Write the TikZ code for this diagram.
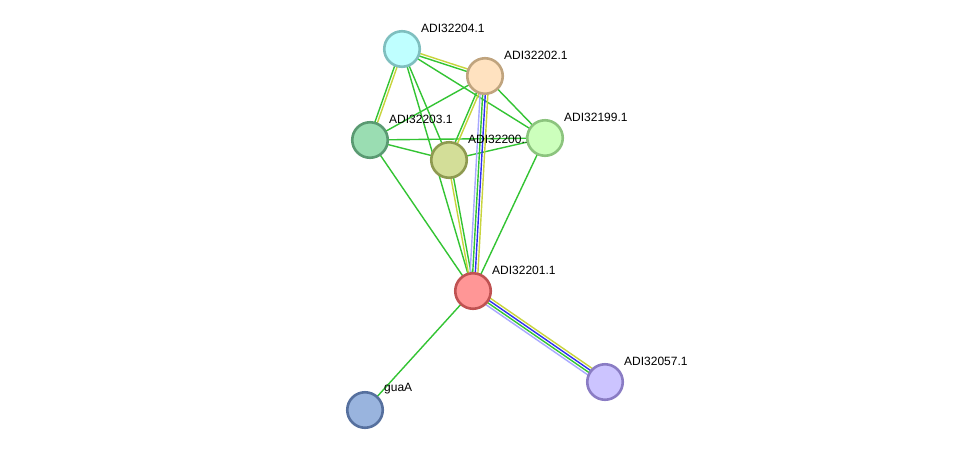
\documentclass[tikz,border=0pt]{standalone}
\usepackage{fontspec}
\setmainfont{Liberation Sans}
\usetikzlibrary{calc,backgrounds}
\definecolor{egreen}{HTML}{33C433}
\definecolor{eyellow}{HTML}{C8D43C}
\definecolor{eblue}{HTML}{3030F0}
\definecolor{elav}{HTML}{A8A8FF}
\definecolor{f204}{HTML}{BFFFFF}\definecolor{b204}{HTML}{7FBFBF}
\definecolor{f202}{HTML}{FFE2C0}\definecolor{b202}{HTML}{C0A47E}
\definecolor{f203}{HTML}{9ADDB2}\definecolor{b203}{HTML}{5A9A72}
\definecolor{f200}{HTML}{D3DE98}\definecolor{b200}{HTML}{8E9A50}
\definecolor{f199}{HTML}{CCFFBC}\definecolor{b199}{HTML}{8CC47E}
\definecolor{f201}{HTML}{FF9696}\definecolor{b201}{HTML}{C05252}
\definecolor{f057}{HTML}{CCC4FF}\definecolor{b057}{HTML}{8A7CC4}
\definecolor{fgua}{HTML}{99B4DE}\definecolor{bgua}{HTML}{56709E}
\newcommand\sedge[4]{%
  \draw[#4, line width=1.4pt] ($(#1.center)!#3!90:(#2.center)$) -- ($(#2.center)!#3!-90:(#1.center)$);}
\begin{document}
\begin{tikzpicture}[x=1pt,y=1pt,
  prot/.style={circle, minimum size=35.5pt, inner sep=0pt, line width=2.6pt},
  lab/.style={anchor=west, inner sep=0pt, font=\fontsize{12}{14}\selectfont}]
\useasboundingbox (0,0) rectangle (976,-456);
% nodes
\node[prot, fill=f204, draw=b204] (n204) at (402,-49) {};
\node[lab] (l204) at (421,-28) {ADI32204.1};
\node[prot, fill=f202, draw=b202] (n202) at (485,-76) {};
\node[lab] (l202) at (504,-55) {ADI32202.1};
\node[prot, fill=f203, draw=b203] (n203) at (370,-140) {};
\node[lab] (l203) at (389,-119) {ADI32203.1};
\node[prot, fill=f200, draw=b200] (n200) at (449,-160) {};
\node[lab] (l200) at (468,-139) {ADI32200.1};
\node[prot, fill=f199, draw=b199] (n199) at (545,-138) {};
\node[lab] (l199) at (564,-117) {ADI32199.1};
\node[prot, fill=f201, draw=b201] (n201) at (473,-291) {};
\node[lab] (l201) at (492,-270) {ADI32201.1};
\node[prot, fill=f057, draw=b057] (n057) at (605,-382) {};
\node[lab] (l057) at (624,-361) {ADI32057.1};
\node[prot, fill=fgua, draw=bgua] (ngua) at (365,-410) {};
\node[lab] (lgua) at (384,-389) {guaA};
\begin{scope}[on background layer]
\fill[white] (0,0) rectangle (976,-456);
% single green edges
\sedge{n204}{n199}{0pt}{egreen}
\sedge{n204}{n200}{0pt}{egreen}
\sedge{n204}{n201}{0pt}{egreen}
\sedge{n202}{n203}{0pt}{egreen}
\sedge{n202}{n199}{0pt}{egreen}
\sedge{n203}{n200}{0pt}{egreen}
\sedge{n203}{n199}{0pt}{egreen}
\sedge{n203}{n201}{0pt}{egreen}
\sedge{n200}{n199}{0pt}{egreen}
\sedge{n199}{n201}{0pt}{egreen}
\sedge{n201}{ngua}{0pt}{egreen}
% double edges
\sedge{n204}{n202}{1.3pt}{eyellow}
\sedge{n204}{n202}{-1.3pt}{egreen}
\sedge{n204}{n203}{1.3pt}{eyellow}
\sedge{n204}{n203}{-1.3pt}{egreen}
\sedge{n202}{n200}{1.3pt}{eyellow}
\sedge{n202}{n200}{-1.3pt}{egreen}
\sedge{n200}{n201}{1.3pt}{egreen}
\sedge{n200}{n201}{-1.3pt}{eyellow}
% quadruple edges
\sedge{n202}{n201}{3.9pt}{eyellow}
\sedge{n202}{n201}{1.3pt}{eblue}
\sedge{n202}{n201}{-1.3pt}{egreen}
\sedge{n202}{n201}{-3.9pt}{elav}
\sedge{n201}{n057}{3.9pt}{eyellow}
\sedge{n201}{n057}{1.3pt}{eblue}
\sedge{n201}{n057}{-1.3pt}{egreen}
\sedge{n201}{n057}{-3.9pt}{elav}
\end{scope}
\end{tikzpicture}
\end{document}
